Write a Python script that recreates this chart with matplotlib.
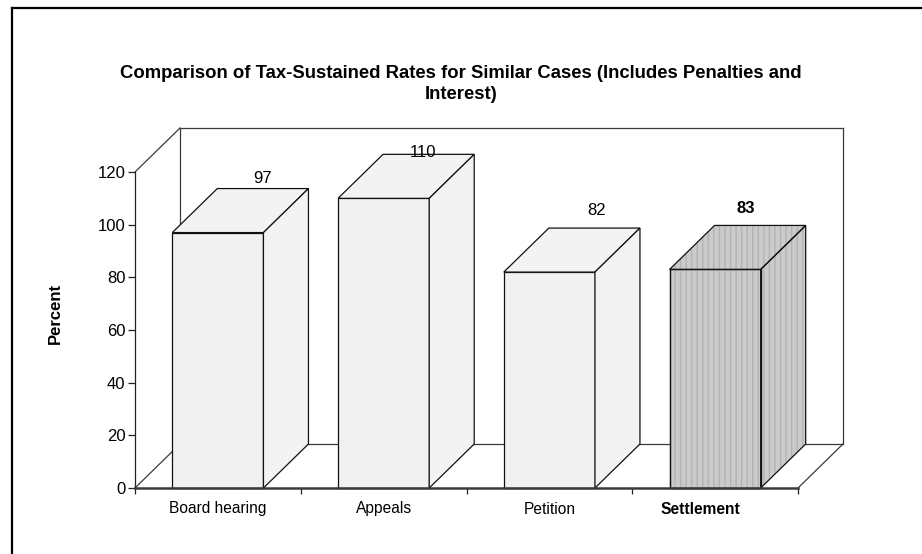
import matplotlib
matplotlib.use("Agg")
import matplotlib.pyplot as plt
from matplotlib.patches import Polygon, Rectangle
from matplotlib.lines import Line2D

categories = ["Board hearing", "Appeals", "Petition", "Settlement"]
values = [97, 110, 82, 83]
y_ticks = [0, 20, 40, 60, 80, 100, 120]
title = "Comparison of Tax-Sustained Rates for Similar Cases (Includes Penalties and\nInterest)"
ylabel = "Percent"

# styling
FONT = "Liberation Sans"
W, H, DPI = 922, 554, 100
DEPTH_PX = (45, 44)           # 3-D depth offset in pixels
BAR_W = 0.55
LABEL_NUDGE = [(45, 54), (39, 46), (47, 62), (31, 61)]   # value-label offsets (px)
CAT_NUDGE = [0, 0, 0, -15]
bold_idx = 3

plt.rcParams['font.family'] = [FONT, 'DejaVu Sans']
fig = plt.figure(figsize=(W / DPI, H / DPI), dpi=DPI)
fig.patch.set_facecolor("white")

# outer frame (only top/left visible)
fig.add_artist(Line2D([12 / W, 12 / W], [0, 1 - 8 / H], color="black", lw=1.6))
fig.add_artist(Line2D([12 / W, 1], [1 - 8 / H, 1 - 8 / H], color="black", lw=1.6))

x0p, x1p, y0p, y1p = 135, 798, 488, 172
ax = fig.add_axes([x0p / W, 1 - y0p / H, (x1p - x0p) / W, (y0p - y1p) / H])
ax.set_xlim(0, len(categories))
ax.set_ylim(0, 120)
ax.patch.set_alpha(0)

DX = DEPTH_PX[0] / (x1p - x0p) * len(categories)
DY = DEPTH_PX[1] / (y0p - y1p) * 120

wall = dict(color="#3a3a3a", lw=0.9, clip_on=False, zorder=1)
n = len(categories)
# back wall & floor
ax.add_line(Line2D([DX, n + DX], [120 + DY, 120 + DY], **wall))
ax.add_line(Line2D([DX, DX], [DY, 120 + DY], **wall))
ax.add_line(Line2D([n + DX, n + DX], [DY, 120 + DY], **wall))
ax.add_line(Line2D([DX, n + DX], [DY, DY], **wall))
ax.add_line(Line2D([0, DX], [120, 120 + DY], **wall))
ax.add_line(Line2D([0, DX], [0, DY], **wall))
ax.add_line(Line2D([n, n + DX], [0, DY], **wall))

centers = [i + 0.5 for i in range(n)]
face_light = "#f1f1f1"
side_light = "#f3f3f3"
edge = "#111111"

bars = ax.bar(centers, values, width=BAR_W, color=face_light, edgecolor=edge,
              linewidth=0.9, zorder=3, clip_on=False)
for i, (c, v, b) in enumerate(zip(centers, values, bars)):
    l, r = c - BAR_W / 2, c + BAR_W / 2
    top = [(l, v), (r, v), (r + DX, v + DY), (l + DX, v + DY)]
    side = [(r, 0), (r, v), (r + DX, v + DY), (r + DX, DY)]
    if i == bold_idx:
        b.set_facecolor("#cbcbcb")
        for poly in (top, side):
            ax.add_patch(Polygon(poly, closed=True, facecolor="#cbcbcb", edgecolor="#b3b3b3",
                                 hatch="|||", lw=0, zorder=3, clip_on=False))
            ax.add_patch(Polygon(poly, closed=True, facecolor="none", edgecolor=edge,
                                 lw=0.9, zorder=3.1, clip_on=False))
        ax.add_patch(Rectangle((l, 0), BAR_W, v, facecolor="none", edgecolor="#b3b3b3",
                               hatch="|||", lw=0, zorder=3.05, clip_on=False))
        ax.add_patch(Rectangle((l, 0), BAR_W, v, facecolor="none", edgecolor=edge,
                               lw=0.9, zorder=3.1, clip_on=False))
    else:
        ax.add_patch(Polygon(top, closed=True, facecolor=side_light, edgecolor=edge,
                             lw=0.9, zorder=3, clip_on=False))
        ax.add_patch(Polygon(side, closed=True, facecolor=side_light, edgecolor=edge,
                             lw=0.9, zorder=3, clip_on=False))
    # value label
    dxp, dyp = LABEL_NUDGE[i]
    ax.annotate(str(v), (c, v), xytext=(dxp * 72 / DPI, dyp * 72 / DPI),
                textcoords="offset points", ha="center", va="center",
                fontsize=12, fontweight="bold" if i == bold_idx else "normal",
                annotation_clip=False, zorder=5)
    ax.annotate(categories[i], (c, 0), xytext=(CAT_NUDGE[i] * 72 / DPI, -21 * 72 / DPI),
                textcoords="offset points", ha="center", va="center",
                fontsize=11.2, fontweight="bold" if i == bold_idx else "normal",
                annotation_clip=False)

# axes styling
for s in ("top", "right", "bottom"):
    ax.spines[s].set_visible(False)
ax.spines["left"].set_color("#222222")
ax.spines["left"].set_linewidth(0.9)
ax.add_line(Line2D([0, n], [0, 0], color="#3a3a3a", lw=1.8, clip_on=False, zorder=4))

ax.set_yticks(y_ticks)
ax.set_yticklabels([str(t) for t in y_ticks], fontsize=12)
ax.set_xticks(range(n + 1))
ax.set_xticklabels([])
ax.tick_params(axis="y", direction="out", length=5, width=0.9, color="#222222", pad=2)
ax.tick_params(axis="x", direction="out", length=4, width=0.9, color="#222222")

fig.text(55 / W, 1 - 313 / H, ylabel, rotation=90, ha="center", va="center",
         fontsize=12, fontweight="bold")
fig.text(461 / W, 1 - 84 / H, title, ha="center", va="center", fontsize=13.3,
         fontweight="bold", linespacing=1.38)

fig.savefig("out.png", dpi=DPI)
